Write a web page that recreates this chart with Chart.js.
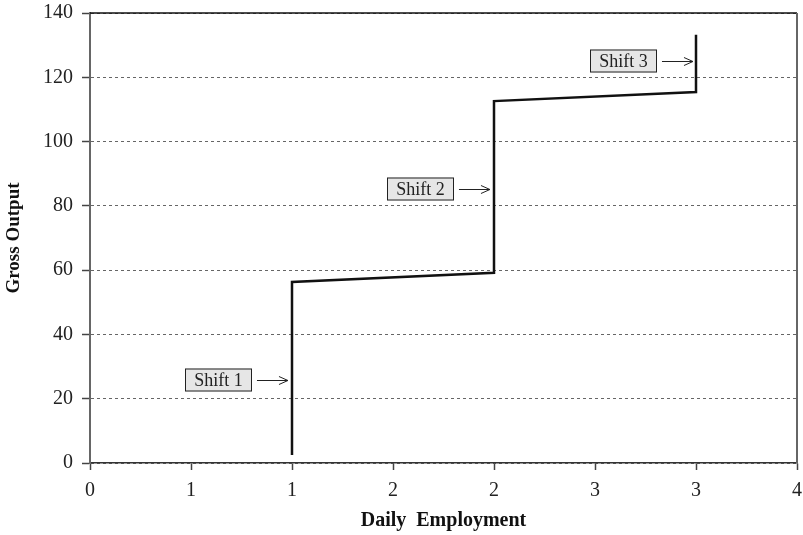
<!DOCTYPE html>
<html>
<head>
<meta charset="utf-8">
<script src="https://cdn.jsdelivr.net/npm/chart.js@4.4.0/dist/chart.umd.min.js"></script>
<style>
  body { margin: 0; background: #fff; }
  #wrap { width: 803px; height: 535px; }
</style>
</head>
<body>
<div id="wrap"><canvas id="stepChart" width="803" height="535"></canvas></div>
<script>
// data
const employmentX = [2, 2, 4, 4, 6, 6];
const grossOutput = [2.5, 56.3, 59.2, 112.6, 115.4, 133.2];
const xTickLabels = ['0', '1', '1', '2', '2', '3', '3', '4'];
const shiftLabels = ['Shift 1', 'Shift 2', 'Shift 3'];
const shiftTipX = [1.96, 3.96, 5.97];
const shiftY = [25.8, 85.2, 125.1];

const serif = "'Liberation Serif', 'DejaVu Serif', serif";
Chart.defaults.font.family = serif;
Chart.defaults.color = '#222';

const frame = {
  id: 'frame',
  afterDraw(chart) {
    const { ctx, chartArea: a } = chart;
    ctx.save();
    ctx.lineWidth = 1.5;
    ctx.strokeStyle = '#111';
    ctx.beginPath();
    ctx.moveTo(a.left, a.top);
    ctx.lineTo(a.right, a.top);
    ctx.stroke();
    ctx.lineWidth = 2;
    ctx.strokeStyle = '#666';
    ctx.beginPath();
    ctx.moveTo(a.right, a.top);
    ctx.lineTo(a.right, a.bottom);
    ctx.stroke();
    ctx.restore();
  }
};

const shiftNotes = {
  id: 'shiftNotes',
  afterDatasetsDraw(chart) {
    const { ctx, scales } = chart;
    ctx.save();
    ctx.font = '18px ' + serif;
    ctx.textBaseline = 'middle';
    shiftLabels.forEach((txt, i) => {
      const tipX = scales.x.getPixelForValue(shiftTipX[i]);
      const y = Math.round(scales.y.getPixelForValue(shiftY[i])) + 0.5;
      const tailX = tipX - 31;
      const boxR = tailX - 5;
      const boxW = 67, boxH = 23;
      const boxL = Math.round(boxR - boxW);
      ctx.fillStyle = '#e6e6e6';
      ctx.fillRect(boxL, y - 0.5 - boxH / 2, boxW, boxH);
      ctx.strokeStyle = '#222';
      ctx.lineWidth = 1;
      ctx.strokeRect(boxL + 0.5, y - boxH / 2, boxW - 1, boxH - 1);
      ctx.fillStyle = '#222';
      ctx.textAlign = 'center';
      ctx.fillText(txt, boxL + boxW / 2, y + 1);
      ctx.beginPath();
      ctx.moveTo(tailX, y);
      ctx.lineTo(tipX, y);
      ctx.moveTo(tipX - 9, y - 4);
      ctx.lineTo(tipX, y);
      ctx.lineTo(tipX - 9, y + 4);
      ctx.stroke();
    });
    ctx.restore();
  }
};

new Chart(document.getElementById('stepChart'), {
  type: 'scatter',
  data: {
    datasets: [{
      data: employmentX.map((x, i) => ({ x: x, y: grossOutput[i] })),
      showLine: true,
      borderColor: '#111',
      borderWidth: 2.5,
      pointRadius: 0,
      tension: 0
    }]
  },
  options: {
    responsive: false,
    animation: false,
    layout: { padding: { top: 13, right: 6, left: 0, bottom: 0 } },
    plugins: { legend: { display: false }, tooltip: { enabled: false } },
    scales: {
      x: {
        type: 'linear',
        min: 0,
        max: 7,
        afterFit(scale) {
          scale.height = 72;
          scale.paddingLeft = 0;
          scale.paddingRight = 0;
        },
        ticks: {
          stepSize: 1,
          padding: 9,
          font: { size: 20 },
          color: '#222',
          callback: (v) => xTickLabels[v]
        },
        grid: { drawOnChartArea: false, drawTicks: true, tickLength: 7, tickColor: '#444', tickWidth: 1.5 },
        border: { color: '#333', width: 1.5 },
        title: {
          display: true,
          text: 'Daily  Employment',
          font: { size: 20, weight: 'bold' },
          color: '#111',
          padding: { top: 0, bottom: 2 }
        }
      },
      y: {
        min: 0,
        max: 140,
        afterFit(scale) {
          scale.width = 90;
          scale.paddingTop = 0;
          scale.paddingBottom = 0;
        },
        ticks: { stepSize: 20, padding: 9, font: { size: 20 }, color: '#222' },
        grid: { color: '#666', lineWidth: 1, tickLength: 8, tickColor: '#444', tickWidth: 1.5 },
        border: { color: '#666', width: 2, dash: [3, 3] },
        title: {
          display: true,
          text: 'Gross Output',
          font: { size: 19, weight: 'bold' },
          color: '#111',
          padding: { top: 3, bottom: 0 }
        }
      }
    }
  },
  plugins: [frame, shiftNotes]
});
</script>
</body>
</html>
